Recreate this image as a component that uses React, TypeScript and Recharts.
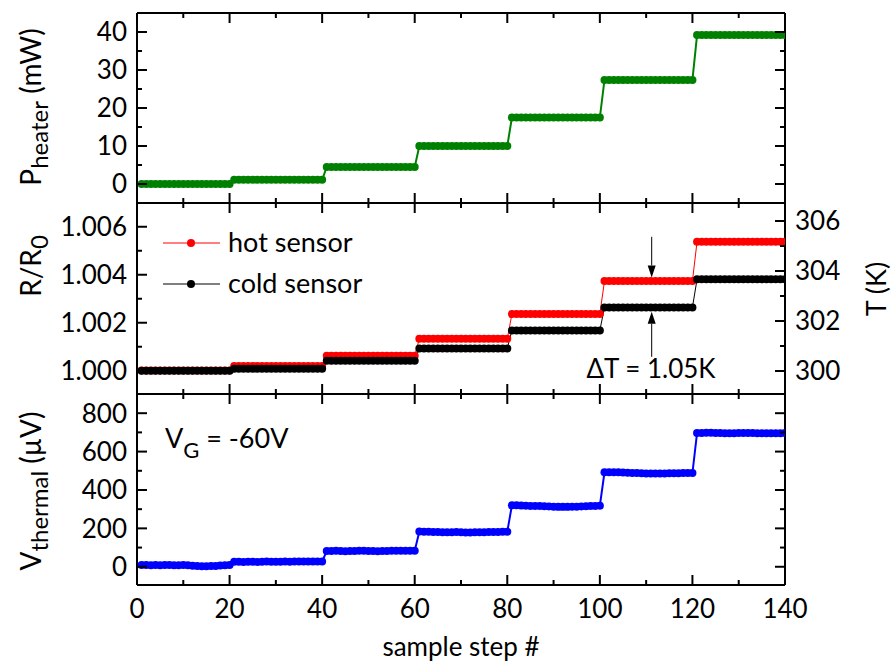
import React from 'react';
import { LineChart, Line, XAxis, YAxis, ReferenceLine } from 'recharts';

// ---------------- data ----------------
const sampleStep = [
  1, 2, 3, 4, 5, 6, 7, 8, 9, 10, 11, 12, 13, 14, 15, 16, 17, 18, 19, 20,
  21, 22, 23, 24, 25, 26, 27, 28, 29, 30, 31, 32, 33, 34, 35, 36, 37, 38, 39, 40,
  41, 42, 43, 44, 45, 46, 47, 48, 49, 50, 51, 52, 53, 54, 55, 56, 57, 58, 59, 60,
  61, 62, 63, 64, 65, 66, 67, 68, 69, 70, 71, 72, 73, 74, 75, 76, 77, 78, 79, 80,
  81, 82, 83, 84, 85, 86, 87, 88, 89, 90, 91, 92, 93, 94, 95, 96, 97, 98, 99, 100,
  101, 102, 103, 104, 105, 106, 107, 108, 109, 110, 111, 112, 113, 114, 115, 116, 117, 118, 119, 120,
  121, 122, 123, 124, 125, 126, 127, 128, 129, 130, 131, 132, 133, 134, 135, 136, 137, 138, 139, 140,
];

// heater power (mW)
const pHeater = [
  0.0, 0.0, 0.0, 0.0, 0.0, 0.0, 0.0, 0.0, 0.0, 0.0, 0.0, 0.0, 0.0, 0.0, 0.0, 0.0, 0.0, 0.0, 0.0, 0.0,
  1.1, 1.1, 1.1, 1.1, 1.1, 1.1, 1.1, 1.1, 1.1, 1.1, 1.1, 1.1, 1.1, 1.1, 1.1, 1.1, 1.1, 1.1, 1.1, 1.1,
  4.5, 4.5, 4.5, 4.5, 4.5, 4.5, 4.5, 4.5, 4.5, 4.5, 4.5, 4.5, 4.5, 4.5, 4.5, 4.5, 4.5, 4.5, 4.5, 4.5,
  10.0, 10.0, 10.0, 10.0, 10.0, 10.0, 10.0, 10.0, 10.0, 10.0, 10.0, 10.0, 10.0, 10.0, 10.0, 10.0, 10.0, 10.0, 10.0, 10.0,
  17.5, 17.5, 17.5, 17.5, 17.5, 17.5, 17.5, 17.5, 17.5, 17.5, 17.5, 17.5, 17.5, 17.5, 17.5, 17.5, 17.5, 17.5, 17.5, 17.5,
  27.4, 27.4, 27.4, 27.4, 27.4, 27.4, 27.4, 27.4, 27.4, 27.4, 27.4, 27.4, 27.4, 27.4, 27.4, 27.4, 27.4, 27.4, 27.4, 27.4,
  39.2, 39.2, 39.2, 39.2, 39.2, 39.2, 39.2, 39.2, 39.2, 39.2, 39.2, 39.2, 39.2, 39.2, 39.2, 39.2, 39.2, 39.2, 39.2, 39.2,
];

// hot sensor R/R0
const hotSensor = [
  1.00001, 1.00001, 1.00001, 1.00001, 1.00001, 1.00001, 1.00001, 1.00001, 1.00001, 1.00001, 1.00001, 1.00001, 1.00001, 1.00001, 1.00001, 1.00001, 1.00001, 1.00001, 1.00001, 1.00001,
  1.0002, 1.0002, 1.0002, 1.0002, 1.0002, 1.0002, 1.0002, 1.0002, 1.0002, 1.0002, 1.0002, 1.0002, 1.0002, 1.0002, 1.0002, 1.0002, 1.0002, 1.0002, 1.0002, 1.0002,
  1.00062, 1.00062, 1.00062, 1.00062, 1.00062, 1.00062, 1.00062, 1.00062, 1.00062, 1.00062, 1.00062, 1.00062, 1.00062, 1.00062, 1.00062, 1.00062, 1.00062, 1.00062, 1.00062, 1.00062,
  1.00133, 1.00133, 1.00133, 1.00133, 1.00133, 1.00133, 1.00133, 1.00133, 1.00133, 1.00133, 1.00133, 1.00133, 1.00133, 1.00133, 1.00133, 1.00133, 1.00133, 1.00133, 1.00133, 1.00133,
  1.00236, 1.00236, 1.00236, 1.00236, 1.00236, 1.00236, 1.00236, 1.00236, 1.00236, 1.00236, 1.00236, 1.00236, 1.00236, 1.00236, 1.00236, 1.00236, 1.00236, 1.00236, 1.00236, 1.00236,
  1.00374, 1.00374, 1.00374, 1.00374, 1.00374, 1.00374, 1.00374, 1.00374, 1.00374, 1.00374, 1.00374, 1.00374, 1.00374, 1.00374, 1.00374, 1.00374, 1.00374, 1.00374, 1.00374, 1.00374,
  1.00538, 1.00538, 1.00538, 1.00538, 1.00538, 1.00538, 1.00538, 1.00538, 1.00538, 1.00538, 1.00538, 1.00538, 1.00538, 1.00538, 1.00538, 1.00538, 1.00538, 1.00538, 1.00538, 1.00538,
];

// cold sensor R/R0
const coldSensor = [
  1.0, 1.0, 1.0, 1.0, 1.0, 1.0, 1.0, 1.0, 1.0, 1.0, 1.0, 1.0, 1.0, 1.0, 1.0, 1.0, 1.0, 1.0, 1.0, 1.0,
  1.00008, 1.00008, 1.00008, 1.00008, 1.00008, 1.00008, 1.00008, 1.00008, 1.00008, 1.00008, 1.00008, 1.00008, 1.00008, 1.00008, 1.00008, 1.00008, 1.00008, 1.00008, 1.00008, 1.00008,
  1.00042, 1.00042, 1.00042, 1.00042, 1.00042, 1.00042, 1.00042, 1.00042, 1.00042, 1.00042, 1.00042, 1.00042, 1.00042, 1.00042, 1.00042, 1.00042, 1.00042, 1.00042, 1.00042, 1.00042,
  1.00093, 1.00093, 1.00093, 1.00093, 1.00093, 1.00093, 1.00093, 1.00093, 1.00093, 1.00093, 1.00093, 1.00093, 1.00093, 1.00093, 1.00093, 1.00093, 1.00093, 1.00093, 1.00093, 1.00093,
  1.00168, 1.00168, 1.00168, 1.00168, 1.00168, 1.00168, 1.00168, 1.00168, 1.00168, 1.00168, 1.00168, 1.00168, 1.00168, 1.00168, 1.00168, 1.00168, 1.00168, 1.00168, 1.00168, 1.00168,
  1.00264, 1.00264, 1.00264, 1.00264, 1.00264, 1.00264, 1.00264, 1.00264, 1.00264, 1.00264, 1.00264, 1.00264, 1.00264, 1.00264, 1.00264, 1.00264, 1.00264, 1.00264, 1.00264, 1.00264,
  1.00381, 1.00381, 1.00381, 1.00381, 1.00381, 1.00381, 1.00381, 1.00381, 1.00381, 1.00381, 1.00381, 1.00381, 1.00381, 1.00381, 1.00381, 1.00381, 1.00381, 1.00381, 1.00381, 1.00381,
];

// thermal voltage (µV)
const vThermal = [
  9, 9, 8, 9, 8, 9, 9, 8, 8, 9, 8, 5, 4, 3, 3, 4, 4, 6, 8, 9,
  26, 26, 25, 26, 26, 25, 26, 27, 26, 26, 26, 27, 26, 27, 27, 27, 28, 28, 28, 28,
  82, 82, 83, 82, 81, 82, 82, 83, 83, 82, 82, 81, 82, 82, 83, 83, 83, 84, 84, 84,
  184, 183, 182, 181, 181, 180, 180, 180, 181, 180, 179, 179, 180, 180, 180, 181, 181, 181, 182, 183,
  320, 320, 319, 318, 317, 317, 316, 315, 314, 313, 312, 312, 312, 313, 313, 314, 315, 316, 317, 318,
  492, 493, 493, 492, 491, 490, 489, 488, 487, 486, 486, 486, 486, 486, 487, 487, 487, 488, 488, 488,
  697, 697, 698, 698, 697, 697, 696, 696, 696, 697, 697, 697, 697, 696, 696, 696, 696, 696, 696, 697,
];

// tick values
const xTicks = [0, 10, 20, 30, 40, 50, 60, 70, 80, 90, 100, 110, 120, 130, 140];
const pTicks = [0, 5, 10, 15, 20, 25, 30, 35, 40];
const rTicks = [1.0, 1.001, 1.002, 1.003, 1.004, 1.005, 1.006];
const tTicks = [300, 301, 302, 303, 304, 305, 306];
const vTicks = [0, 100, 200, 300, 400, 500, 600, 700, 800];

const rows = sampleStep.map((s, i) => ({
  x: s,
  p: pHeater[i],
  hot: hotSensor[i],
  cold: coldSensor[i],
  v: vThermal[i],
}));

// ---------------- styling helpers ----------------
const FONT = 'Lato, "Open Sans", sans-serif';
const TICK_FS = 26;
const axisLine = { stroke: '#000', strokeWidth: 2 };

type Side = 'left' | 'right' | 'top' | 'bottom';

const makeTick =
  (side: Side, isMajor: (v: number) => boolean, fmt?: (v: number) => string) =>
  (props: any) => {
    const { x, y, payload } = props;
    const v = Number(payload.value);
    const major = isMajor(v);
    const len = major ? 10 : 5;
    let x2 = x;
    let y2 = y;
    if (side === 'left') x2 = x + len;
    if (side === 'right') x2 = x - len;
    if (side === 'top') y2 = y + len;
    if (side === 'bottom') y2 = y - len;
    let label: any = null;
    if (fmt && major) {
      const common = { fontFamily: FONT, fontSize: TICK_FS, fill: '#000' };
      if (side === 'left')
        label = (
          <text x={x - 10} y={y} dy="0.36em" textAnchor="end" style={common}>
            {fmt(v)}
          </text>
        );
      if (side === 'right')
        label = (
          <text x={x + 10} y={y} dy="0.36em" textAnchor="start" style={common}>
            {fmt(v)}
          </text>
        );
      if (side === 'bottom')
        label = (
          <text x={x} y={y + 33} textAnchor="middle" style={common}>
            {fmt(v)}
          </text>
        );
    }
    return (
      <g>
        <line x1={x} y1={y} x2={x2} y2={y2} stroke="#000" strokeWidth={2} />
        {label}
      </g>
    );
  };

const xMajor = (v: number) => Math.round(v) % 20 === 0;
const pMajor = (v: number) => Math.round(v) % 10 === 0;
const rMajor = (v: number) => Math.round(v * 1000) % 2 === 0;
const tMajor = (v: number) => Math.round(v) % 2 === 0;
const vMajor = (v: number) => Math.round(v) % 200 === 0;

const intFmt = (v: number) => String(Math.round(v));
const rFmt = (v: number) => v.toFixed(3);

const arrowShape = (p: any) => {
  const { x1, y1, x2, y2 } = p;
  const dir = y2 > y1 ? 1 : -1;
  const head = 12;
  const hw = 4;
  return (
    <g>
      <line x1={x1} y1={y1} x2={x2} y2={y2 - dir * head} stroke="#000" strokeWidth={1} />
      <polygon
        points={`${x2},${y2} ${x2 - hw},${y2 - dir * head} ${x2 + hw},${y2 - dir * head}`}
        fill="#000"
      />
    </g>
  );
};

const MARGIN_L = 77;
const MARGIN_R = 48;
const Y_W = 60;

const xDomain: [number, number] = [0, 140];

function topAxis() {
  return (
    <XAxis
      xAxisId="top"
      orientation="top"
      dataKey="x"
      type="number"
      domain={xDomain}
      ticks={xTicks}
      interval={0}
      tickSize={0}
      tickMargin={0}
      height={10}
      axisLine={axisLine}
      tick={makeTick('top', xMajor)}
      allowDataOverflow
    />
  );
}

export default function App() {
  const dotStyle = (c: string, r = 4) => ({ r, fill: c, stroke: 'none', strokeWidth: 0 });
  return (
    <div
      style={{
        position: 'absolute',
        left: 0,
        top: 0,
        width: 893,
        height: 663,
        background: '#fff',
        overflow: 'hidden',
      }}
    >
      {/* Panel 1: heater power */}
      <div style={{ position: 'absolute', left: 0, top: 0 }}>
        <LineChart width={893} height={213} data={rows} margin={{ top: 3, right: MARGIN_R, bottom: 5, left: MARGIN_L }}>
          <XAxis
            xAxisId="b"
            dataKey="x"
            type="number"
            domain={xDomain}
            ticks={xTicks}
            interval={0}
            tickSize={0}
            tickMargin={0}
            height={5}
            axisLine={axisLine}
            tick={makeTick('bottom', xMajor)}
            allowDataOverflow
          />
          {topAxis()}
          <YAxis
            yAxisId="l"
            type="number"
            domain={[-5, 45]}
            ticks={pTicks}
            interval={0}
            tickSize={0}
            tickMargin={0}
            width={Y_W}
            axisLine={axisLine}
            tick={makeTick('left', pMajor, intFmt)}
            allowDataOverflow
          />
          <YAxis
            yAxisId="r"
            orientation="right"
            type="number"
            domain={[-5, 45]}
            ticks={pTicks}
            interval={0}
            tickSize={0}
            tickMargin={0}
            width={Y_W}
            axisLine={axisLine}
            tick={makeTick('right', pMajor)}
            allowDataOverflow
          />
          <Line
            xAxisId="b"
            yAxisId="l"
            dataKey="p"
            stroke="#008000"
            strokeWidth={2}
            dot={dotStyle('#008000')}
            isAnimationActive={false}
          />
        </LineChart>
      </div>

      {/* Panel 2: sensor resistance */}
      <div style={{ position: 'absolute', left: 0, top: 193 }}>
        <LineChart width={893} height={211} data={rows} margin={{ top: 0, right: MARGIN_R, bottom: 5, left: MARGIN_L }}>
          <XAxis
            xAxisId="b"
            dataKey="x"
            type="number"
            domain={xDomain}
            ticks={xTicks}
            interval={0}
            tickSize={0}
            tickMargin={0}
            height={5}
            axisLine={axisLine}
            tick={makeTick('bottom', xMajor)}
            allowDataOverflow
          />
          {topAxis()}
          <YAxis
            yAxisId="l"
            type="number"
            domain={[0.99903, 1.00699]}
            ticks={rTicks}
            interval={0}
            tickSize={0}
            tickMargin={0}
            width={Y_W}
            axisLine={axisLine}
            tick={makeTick('left', rMajor, rFmt)}
            allowDataOverflow
          />
          <YAxis
            yAxisId="r"
            orientation="right"
            type="number"
            domain={[299.08, 306.72]}
            ticks={tTicks}
            interval={0}
            tickSize={0}
            tickMargin={0}
            width={Y_W}
            axisLine={axisLine}
            tick={makeTick('right', tMajor, intFmt)}
            allowDataOverflow
          />
          <Line
            xAxisId="b"
            yAxisId="l"
            dataKey="hot"
            stroke="#ff0000"
            strokeWidth={1}
            dot={dotStyle('#ff0000')}
            isAnimationActive={false}
          />
          <Line
            xAxisId="b"
            yAxisId="l"
            dataKey="cold"
            stroke="#000000"
            strokeWidth={1}
            dot={dotStyle('#000000')}
            isAnimationActive={false}
          />
          <ReferenceLine
            xAxisId="b"
            yAxisId="l"
            segment={[
              { x: 111.2, y: 1.00558 },
              { x: 111.2, y: 1.00389 },
            ]}
            shape={arrowShape}
          />
          <ReferenceLine
            xAxisId="b"
            yAxisId="l"
            segment={[
              { x: 111.2, y: 1.00058 },
              { x: 111.2, y: 1.00246 },
            ]}
            shape={arrowShape}
          />
        </LineChart>
      </div>

      {/* Panel 3: thermal voltage */}
      <div style={{ position: 'absolute', left: 0, top: 384 }}>
        <LineChart width={893} height={279} data={rows} margin={{ top: 0, right: MARGIN_R, bottom: 18, left: MARGIN_L }}>
          <XAxis
            xAxisId="b"
            dataKey="x"
            type="number"
            domain={xDomain}
            ticks={xTicks}
            interval={0}
            tickSize={0}
            tickMargin={0}
            height={60}
            axisLine={axisLine}
            tick={makeTick('bottom', xMajor, intFmt)}
            allowDataOverflow
          />
          {topAxis()}
          <YAxis
            yAxisId="l"
            type="number"
            domain={[-95, 900]}
            ticks={vTicks}
            interval={0}
            tickSize={0}
            tickMargin={0}
            width={Y_W}
            axisLine={axisLine}
            tick={makeTick('left', vMajor, intFmt)}
            allowDataOverflow
          />
          <YAxis
            yAxisId="r"
            orientation="right"
            type="number"
            domain={[-95, 900]}
            ticks={vTicks}
            interval={0}
            tickSize={0}
            tickMargin={0}
            width={Y_W}
            axisLine={axisLine}
            tick={makeTick('right', vMajor)}
            allowDataOverflow
          />
          <Line
            xAxisId="b"
            yAxisId="l"
            dataKey="v"
            stroke="#0000ff"
            strokeWidth={2}
            dot={dotStyle('#0000ff')}
            isAnimationActive={false}
          />
        </LineChart>
      </div>

      {/* Text overlay: axis titles, legend, annotations */}
      <svg
        width={893}
        height={663}
        style={{ position: 'absolute', left: 0, top: 0, pointerEvents: 'none' }}
      >
        <g style={{ fontFamily: FONT, fill: '#000' }}>
          <text transform="translate(41,107) rotate(-90)" textAnchor="middle" fontSize={28}>
            <tspan>P</tspan>
            <tspan fontSize={24} dy={7}>heater</tspan>
            <tspan fontSize={28} dy={-7}> (mW)</tspan>
          </text>
          <text transform="translate(41,266) rotate(-90)" textAnchor="middle" fontSize={28}>
            <tspan>R/R</tspan>
            <tspan fontSize={24} dy={7}>0</tspan>
          </text>
          <text transform="translate(41,491) rotate(-90)" textAnchor="middle" fontSize={28}>
            <tspan>V</tspan>
            <tspan fontSize={24} dy={7}>thermal</tspan>
            <tspan fontSize={28} dy={-7}> (µV)</tspan>
          </text>
          <text transform="translate(886,289) rotate(-90)" textAnchor="middle" fontSize={27}>
            T (K)
          </text>
          <text x={461} y={656} textAnchor="middle" fontSize={26}>
            sample step #
          </text>

          {/* legend */}
          <line x1={163} x2={220} y1={243} y2={243} stroke="#ff0000" strokeWidth={1} />
          <circle cx={191} cy={243} r={4} fill="#ff0000" />
          <text x={228} y={252} fontSize={27}>
            hot sensor
          </text>
          <line x1={163} x2={220} y1={284} y2={284} stroke="#000" strokeWidth={1} />
          <circle cx={191} cy={284} r={4} fill="#000" />
          <text x={228} y={293} fontSize={27}>
            cold sensor
          </text>

          {/* annotations */}
          <text x={651} y={378} textAnchor="middle" fontSize={26}>
            ΔT = 1.05K
          </text>
          <text x={165} y={448} fontSize={27}>
            <tspan>V</tspan>
            <tspan fontSize={22} dy={10}>G</tspan>
            <tspan fontSize={27} dy={-10}> = -60V</tspan>
          </text>
        </g>
      </svg>
    </div>
  );
}
